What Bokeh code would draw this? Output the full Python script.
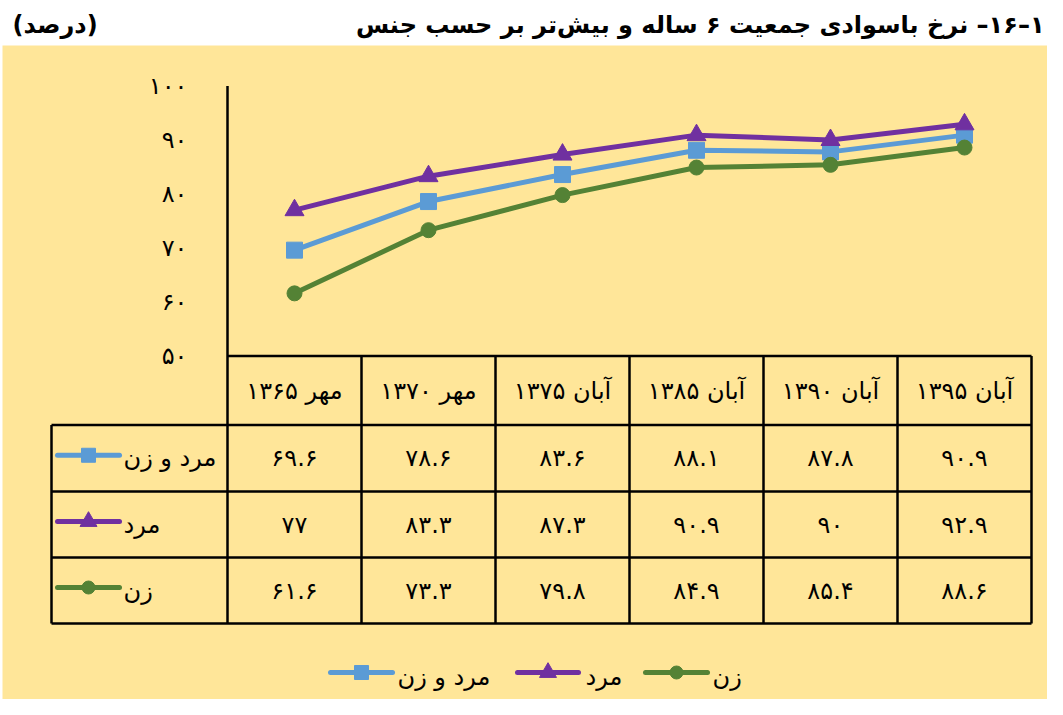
from bokeh.plotting import figure
from bokeh.models import Range1d
from bokeh.core.properties import value
from bokeh.embed import file_html
from bokeh.resources import INLINE

# ---------------- data ----------------
periods = ["مهر ۱۳۶۵", "مهر ۱۳۷۰", "آبان ۱۳۷۵", "آبان ۱۳۸۵", "آبان ۱۳۹۰", "آبان ۱۳۹۵"]
series_names = ["مرد و زن", "مرد", "زن"]
total = [69.6, 78.6, 83.6, 88.1, 87.8, 90.9]
men = [77, 83.3, 87.3, 90.9, 90, 92.9]
women = [61.6, 73.3, 79.8, 84.9, 85.4, 88.6]
y_ticks = [50, 60, 70, 80, 90, 100]
title_text = "\u200f۱–۱۶– نرخ باسوادی جمعیت ۶ ساله و بیش\u200cتر بر حسب جنس"
unit_text = "(درصد)"

# ---------------- styles ----------------
colors = ["#5B9BD5", "#7030A0", "#548235"]
markers = ["square", "triangle", "circle"]
msizes = [16, 19, 15]
YELLOW = "#FFE699"
FONT = value("DejaVu Sans")

FA = str.maketrans("0123456789", "۰۱۲۳۴۵۶۷۸۹")
def fa(v):
    return f"{v:g}".translate(FA)

# ---------------- geometry ----------------
W, H = 1047, 699
PXX = 134.0      # px per category
X0 = 294.0       # px of first category centre
PXY = 5.4        # px per percent
Y50 = 355.5      # px (from top) of value 50

def dx(px):  # picture pixel -> data x
    return (px - X0) / PXX

def dy(py):  # picture pixel -> data y
    return 50 + (Y50 - py) / PXY

p = figure(width=W, height=H, output_backend="svg", toolbar_location=None,
           x_range=Range1d(-X0 / PXX, (W - X0) / PXX),
           y_range=Range1d(50 - (H - Y50) / PXY, 50 + Y50 / PXY),
           x_axis_type=None, y_axis_type=None, min_border=0)
p.grid.visible = False
p.outline_line_color = None
p.background_fill_color = "white"
p.border_fill_color = "white"

# yellow panel
p.quad(left=[dx(2)], right=[dx(1070)], bottom=[dy(720)], top=[dy(45)],
       fill_color=YELLOW, line_color=None)

# title
p.text(x=[dx(1044)], y=[dy(24)], text=[title_text], text_font=FONT,
       text_font_size="24px", text_font_style="bold", text_align="right",
       text_baseline="middle", text_color="black")
p.text(x=[dx(12)], y=[dy(24)], text=[unit_text], text_font=FONT,
       text_font_size="24px", text_font_style="bold", text_align="left",
       text_baseline="middle", text_color="black")

# y tick labels
p.text(x=[dx(187)] * len(y_ticks), y=y_ticks, text=[fa(t) for t in y_ticks],
       text_font=FONT, text_font_size="24px", text_align="right",
       text_baseline="middle", text_color="black")

xs = list(range(len(periods)))
n = len(periods)

# table geometry (picture pixels)
t_left = dx(51)
hdr_bot = dy(424.5)
row_lines = [dy(491), dy(557), dy(623)]
t_bottom = row_lines[-1]
LW = 2.5

# axis line + table verticals
p.segment(x0=[-0.5], y0=[100], x1=[-0.5], y1=[t_bottom], line_color="black", line_width=LW)
p.segment(x0=[i + 0.5 for i in xs], y0=[50] * n, x1=[i + 0.5 for i in xs], y1=[t_bottom] * n,
          line_color="black", line_width=LW)
p.segment(x0=[t_left], y0=[hdr_bot], x1=[t_left], y1=[t_bottom], line_color="black", line_width=LW)
# horizontals
p.segment(x0=[-0.5], y0=[50], x1=[n - 0.5], y1=[50], line_color="black", line_width=LW)
hs = [hdr_bot] + row_lines
p.segment(x0=[t_left] * len(hs), y0=hs, x1=[n - 0.5] * len(hs), y1=hs,
          line_color="black", line_width=LW)

# header labels
p.text(x=xs, y=[(50 + hdr_bot) / 2] * n, text=periods, text_font=FONT,
       text_font_size="24px", text_align="center", text_baseline="middle", text_color="black")

# series lines + table values
all_series = [total, men, women]
row_tops = [hdr_bot] + row_lines[:-1]
for k, (vals, name, c, m, ms) in enumerate(zip(all_series, series_names, colors, markers, msizes)):
    p.line(xs, vals, line_color=c, line_width=5)
    p.scatter(xs, vals, marker=m, size=ms, fill_color=c, line_color=c)
    yc = (row_tops[k] + row_lines[k]) / 2
    p.text(x=xs, y=[yc] * n, text=[fa(v) for v in vals], text_font=FONT,
           text_font_size="24px", text_align="center", text_baseline="middle", text_color="black")
    # in-table legend key
    ky = yc + 3 / PXY
    p.segment(x0=[dx(57)], y0=[ky], x1=[dx(119)], y1=[ky], line_color=c, line_width=5,
              line_cap="round")
    p.scatter([dx(88)], [ky], marker=m, size=ms - 2, fill_color=c, line_color=c)
    p.text(x=[dx(123)], y=[yc], text=[name], text_font=FONT, text_font_size="24px",
           text_align="left", text_baseline="middle", text_color="black")

# bottom legend
leg_y = dy(672)
leg_x = [(330, 392, 397), (517, 578, 585), (645, 707, 712)]
for (a, b, t), name, c, m, ms in zip(leg_x, series_names, colors, markers, msizes):
    p.segment(x0=[dx(a)], y0=[leg_y], x1=[dx(b)], y1=[leg_y], line_color=c, line_width=5,
              line_cap="round")
    p.scatter([dx((a + b) / 2)], [leg_y], marker=m, size=ms - 2, fill_color=c, line_color=c)
    p.text(x=[dx(t)], y=[leg_y - 4 / PXY], text=[name], text_font=FONT, text_font_size="24px",
           text_align="left", text_baseline="middle", text_color="black")

open("out.html", "w").write(file_html(p, INLINE))
